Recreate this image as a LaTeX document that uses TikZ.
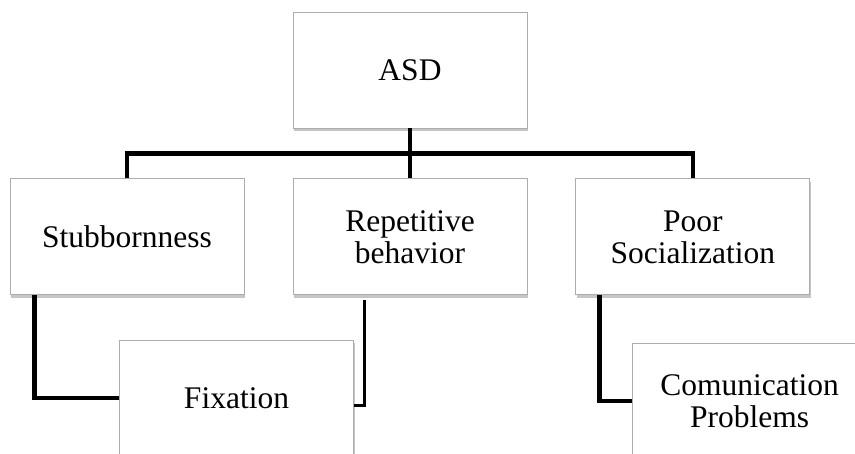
\documentclass[tikz,border=0pt]{standalone}
\usepackage{fontspec}
\setmainfont{Liberation Serif}
\usetikzlibrary{shadows,positioning}

\begin{document}
\begin{tikzpicture}[x=1pt,y=1pt,node distance=48pt,
  semithick]
  \tikzstyle{box}=[draw=gray!65, line width=0.9pt, fill=white,
    minimum width=234pt, minimum height=116pt, inner sep=0pt,
    align=center, font=\fontsize{31.5}{32}\selectfont,
    drop shadow={shadow xshift=1pt, shadow yshift=-3pt, opacity=0.45}]
  \tikzstyle{link}=[line width=4.5pt]
  \tikzstyle{thinlink}=[line width=3pt]

  \useasboundingbox (0,0) rectangle (855,-454);

  \node[box] (ASD)  at (410,-70)          {ASD};
  \node[box] (Rep)  [below=50pt of ASD]   {Repetitive\\behavior};
  \node[box] (Stub) [left=of Rep]         {Stubbornness};
  \node[box] (Poor) [right=of Rep]        {Poor\\Socialization};
  \node[box] (Fix)  at (236.5,-398)       {Fixation};
  \node[box] (Com)  at (749.5,-401)       {Comunication\\Problems};

  \draw[link] (ASD.south) -- ++(0,-25) coordinate (bar);
  \draw[link] (Stub.north) |- (bar) -| (Poor.north);
  \draw[link] (bar) -- (Rep.north);
  \draw[link] ([xshift=25pt]Stub.south west) |- (Fix.west);
  \draw[thinlink] ([xshift=-46pt,yshift=-5pt]Rep.south) |- ([yshift=-8pt]Fix.east);
  \draw[link] ([xshift=24pt]Poor.south west) |- (Com.west);
\end{tikzpicture}
\end{document}
